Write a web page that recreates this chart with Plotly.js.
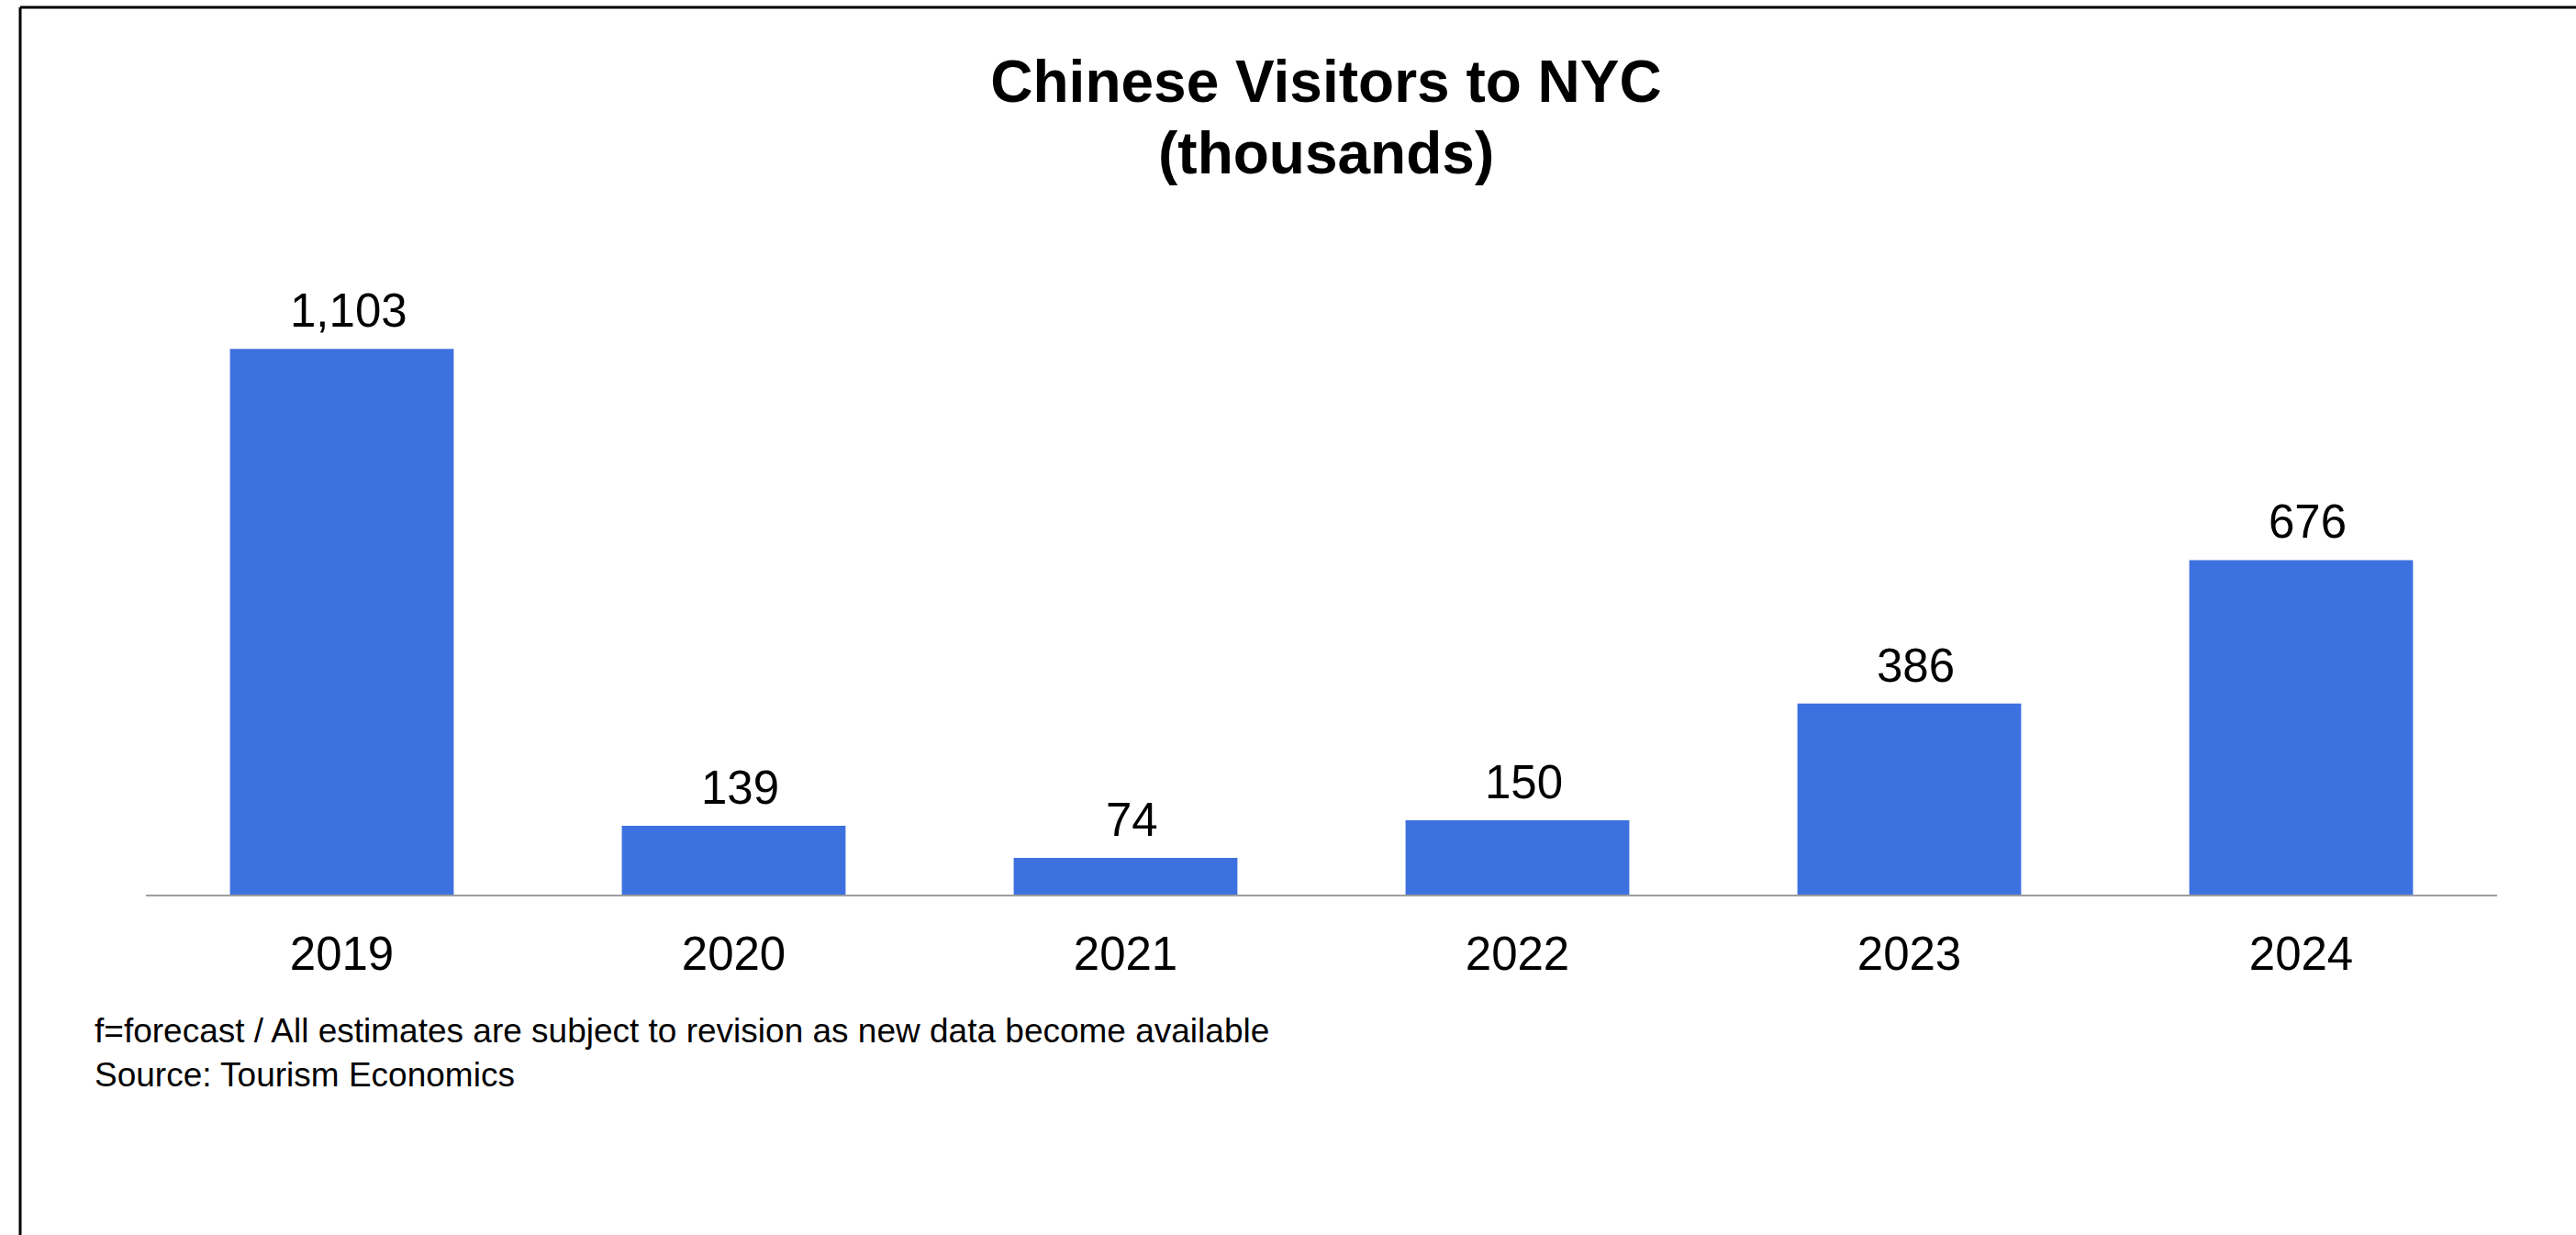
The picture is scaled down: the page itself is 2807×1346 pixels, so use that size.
<!DOCTYPE html>
<html>
<head>
<meta charset="utf-8">
<script src="https://cdn.plot.ly/plotly-3.0.1.min.js"></script>
<style>
  html, body { margin: 0; padding: 0; background: #ffffff; }
  #chart { width: 2807px; height: 1346px; }
</style>
</head>
<body>
<div id="chart"></div>
<script>
// ---- data ----
const years = ['2019', '2020', '2021', '2022', '2023', '2024'];
const visitors = [1103, 139, 74, 150, 386, 676];
const chartTitle = 'Chinese Visitors to NYC';
const chartSubtitle = '(thousands)';
const footnote = 'f=forecast / All estimates are subject to revision as new data become available<br>Source: Tourism Economics';

// ---- layout constants ----
const W = 2807, H = 1346;
const M = { l: 159, r: 86, t: 150, b: 371 };
const plotW = W - M.l - M.r;
const plotH = H - M.t - M.b;
const px2paperX = px => (px - M.l) / plotW;
const px2paperY = py => (H - M.b - py) / plotH;

const FONT = 'Liberation Sans, Arial, Helvetica, sans-serif';
const barColor = 'rgb(62,113,224)';

const fmt = v => v.toLocaleString('en-US');

// value labels above bars (category axis: position by category index)
const labelAnnotations = years.map((y, i) => ({
  x: i, y: visitors[i], xref: 'x', yref: 'y',
  text: fmt(visitors[i]),
  showarrow: false, xanchor: 'center', yanchor: 'bottom', yshift: 11, xshift: 7,
  font: { family: FONT, size: 51, color: '#000000' }
}));

const data = [{
  type: 'bar',
  x: years,
  y: visitors,
  marker: { color: barColor, line: { width: 0 } },
  hoverinfo: 'x+y'
}];

const layout = {
  width: W, height: H,
  margin: M,
  paper_bgcolor: '#ffffff',
  plot_bgcolor: '#ffffff',
  showlegend: false,
  bargap: 0.429,
  font: { family: FONT, color: '#000000' },
  title: {
    text: chartTitle,
    font: { family: FONT, size: 64, weight: 'bold', color: '#000000' },
    x: px2paperX(1445), xref: 'paper', xanchor: 'center',
    y: 1 - 66 / H, yref: 'container', yanchor: 'top'
  },
  xaxis: {
    type: 'category',
    range: [-0.5, 5.5],
    showline: true, linecolor: '#9e9e9e', linewidth: 2,
    showgrid: false, zeroline: false,
    ticks: '',
    ticklabelstandoff: 19,
    tickfont: { family: FONT, size: 51, color: '#000000' },
    fixedrange: true
  },
  yaxis: {
    range: [0, 1530],
    visible: false,
    showgrid: false, zeroline: false,
    fixedrange: true
  },
  annotations: [
    ...labelAnnotations,
    {
      text: chartSubtitle,
      xref: 'paper', yref: 'paper',
      x: px2paperX(1445), y: px2paperY(205),
      xanchor: 'center', yanchor: 'bottom', showarrow: false,
      font: { family: FONT, size: 64, weight: 'bold', color: '#000000' }
    },
    {
      text: footnote,
      xref: 'paper', yref: 'paper',
      x: px2paperX(101), y: px2paperY(1101),
      xanchor: 'left', yanchor: 'top', align: 'left', showarrow: false,
      font: { family: FONT, size: 37, color: '#000000' }
    }
  ],
  shapes: [
    { type: 'line', xref: 'paper', yref: 'paper',
      x0: px2paperX(22), x1: px2paperX(W + 5), y0: px2paperY(8), y1: px2paperY(8),
      line: { color: '#000000', width: 3 } },
    { type: 'line', xref: 'paper', yref: 'paper',
      x0: px2paperX(22), x1: px2paperX(22), y0: px2paperY(8), y1: px2paperY(H + 5),
      line: { color: '#000000', width: 3 } }
  ]
};

Plotly.newPlot('chart', data, layout, { displayModeBar: false, staticPlot: true });
</script>
</body>
</html>
